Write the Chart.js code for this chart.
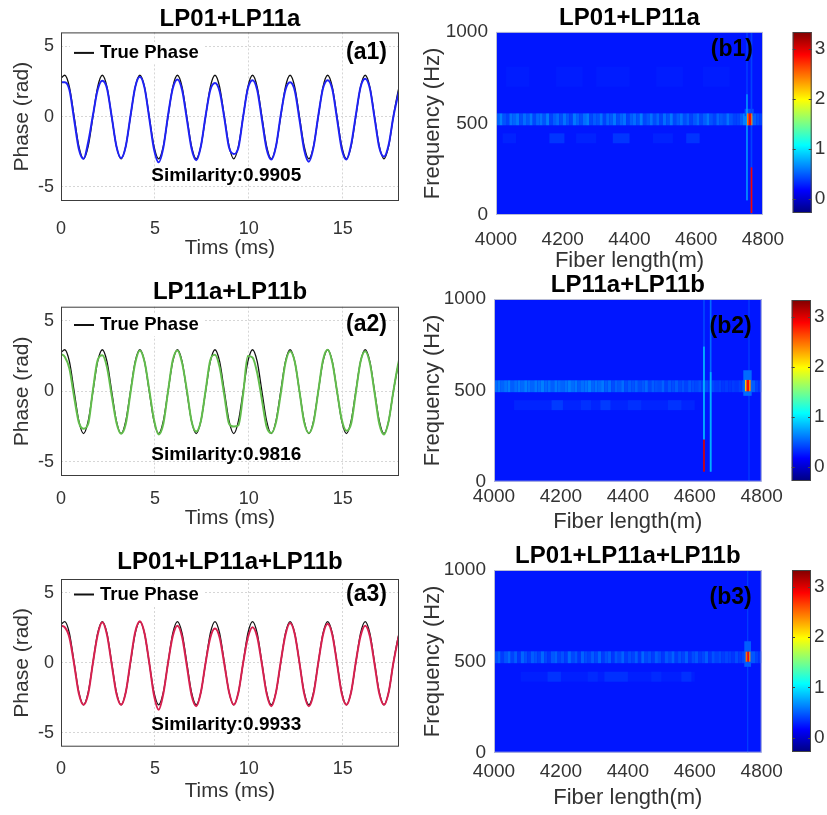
<!DOCTYPE html>
<html>
<head>
<meta charset="utf-8">
<title>Phase recovery and spectra</title>
<script src="https://cdn.jsdelivr.net/npm/chart.js@4.4.1/dist/chart.umd.min.js"></script>
<style>
  html, body { margin: 0; padding: 0; background: #fff; }
  #fig { position: relative; width: 827px; height: 815px; overflow: hidden; background: #fff; }
  #fig canvas { position: absolute; }
</style>
</head>
<body>
<div id="fig"></div>
<script>
// ---- phase traces (ms / rad) ----
const timeMs = [0, 0.2, 0.45, 0.7, 0.95, 1.2, 1.45, 1.7, 1.95,
  2.2, 2.45, 2.7, 2.95, 3.2, 3.45, 3.7, 3.95,
  4.2, 4.45, 4.7, 4.95, 5.2, 5.45, 5.7, 5.95,
  6.2, 6.45, 6.7, 6.95, 7.2, 7.45, 7.7, 7.95,
  8.2, 8.45, 8.7, 8.95, 9.2, 9.45, 9.7, 9.95,
  10.2, 10.45, 10.7, 10.95, 11.2, 11.45, 11.7, 11.95,
  12.2, 12.45, 12.7, 12.95, 13.2, 13.45, 13.7, 13.95,
  14.2, 14.45, 14.7, 14.95, 15.2, 15.45, 15.7, 15.95,
  16.2, 16.45, 16.7, 16.95, 17.2, 17.45, 17.7, 17.95, 18];

const truePhase = [2.75,
  2.95, 2.1, 0, -2.1, -3.0, -2.1, 0, 2.1,
  2.95, 2.1, 0, -2.1, -3.0, -2.1, 0, 2.1,
  2.95, 2.1, 0, -2.1, -3.0, -2.1, 0, 2.1,
  2.95, 2.1, 0, -2.1, -3.0, -2.1, 0, 2.1,
  2.95, 2.1, 0, -2.1, -3.0, -2.1, 0, 2.1,
  2.95, 2.1, 0, -2.1, -3.0, -2.1, 0, 2.1,
  2.95, 2.1, 0, -2.1, -3.0, -2.1, 0, 2.1,
  2.95, 2.1, 0, -2.1, -3.0, -2.1, 0, 2.1,
  2.95, 2.1, 0, -2.1, -3.0, -2.1, 0, 1.8, 2.05];

const phaseLP01LP11a = [2.45,
  2.45, 1.9, -0.2, -2.3, -3.0, -1.8, 0.1, 1.9,
  2.55, 2.0, 0.0, -2.1, -2.95, -2.1, 0.05, 2.1,
  2.85, 2.05, -0.1, -2.3, -3.25, -2.2, 0.1, 2.0,
  2.65, 1.9, -0.15, -2.25, -3.1, -2.1, 0.05, 1.9,
  2.4, 1.8, -0.1, -2.2, -2.65, -2.2, 0.0, 2.0,
  2.6, 1.9, -0.2, -2.3, -3.05, -2.1, 0.1, 1.9,
  2.45, 1.85, -0.2, -2.35, -3.2, -2.15, 0.05, 2.0,
  2.6, 1.95, -0.15, -2.3, -3.05, -2.0, 0.1, 2.1,
  2.7, 2.0, -0.1, -2.2, -2.85, -2.0, 0.0, 1.55, 1.85];

const phaseLP11aLP11b = [2.65,
  2.45, 1.6, -0.4, -2.2, -2.65, -2.3, 0.1, 2.2,
  2.55, 1.7, -0.3, -2.2, -3.0, -2.3, -0.1, 2.0,
  2.9, 2.1, 0.1, -2.0, -3.05, -2.3, 0.0, 2.2,
  2.9, 2.0, 0.1, -2.1, -2.85, -2.1, 0.05, 2.2,
  2.6, 1.7, -0.3, -2.3, -2.5, -2.4, -0.2, 2.5,
  2.4, 1.3, -0.6, -2.5, -2.95, -2.2, -0.2, 2.0,
  2.85, 2.1, 0.0, -2.2, -2.95, -2.2, 0.0, 2.2,
  2.95, 2.05, 0.0, -2.0, -2.8, -2.3, -0.1, 2.1,
  2.85, 2.0, -0.1, -2.3, -3.05, -2.1, 0.0, 1.9, 2.2];

const phaseAllModes = [2.65,
  2.55, 1.8, -0.1, -2.2, -3.0, -2.2, 0.0, 2.0,
  2.9, 2.0, -0.1, -2.2, -3.0, -2.1, 0.1, 2.2,
  2.98, 2.1, 0.0, -2.3, -3.35, -2.2, 0.0, 1.9,
  2.65, 1.85, -0.2, -2.3, -3.1, -2.1, 0.0, 1.8,
  2.45, 1.8, -0.1, -2.1, -3.0, -2.1, 0.0, 1.8,
  2.55, 1.85, -0.1, -2.2, -3.1, -2.1, 0.05, 2.0,
  2.85, 2.05, 0.0, -2.2, -3.1, -2.2, 0.0, 2.0,
  2.8, 2.0, -0.05, -2.2, -3.0, -2.1, 0.05, 1.9,
  2.65, 1.9, -0.1, -2.2, -3.0, -2.1, 0.0, 1.7, 2.0];

const similarity = ['0.9905', '0.9816', '0.9933'];

// ---- spectrum maps: fiber length (m) x frequency (Hz) ----
const fiberRange = [4000, 4800];
const fiberStep = 10;                 // width of one column, m
const band500Hz = [490, 555];         // rows of the 500 Hz line
const heatBase = [0.25, 0.25, 0.25];  // floor level of each map
const cbRange = [-0.28, 3.33];

const map1Band500 = [0.50,0.62,0.46,0.40,0.58,0.52,0.60,0.44,0.56,0.48,
  0.60,0.42,0.54,0.58,0.46,0.62,0.40,0.50,0.56,0.44,
  0.58,0.48,0.40,0.60,0.52,0.44,0.56,0.62,0.42,0.50,
  0.46,0.58,0.40,0.54,0.48,0.60,0.44,0.52,0.58,0.40,
  0.50,0.56,0.46,0.62,0.42,0.48,0.58,0.44,0.54,0.40,
  0.56,0.46,0.60,0.42,0.50,0.58,0.44,0.52,0.40,0.48,
  0.56,0.42,0.50,0.60,0.46,0.40,0.54,0.48,0.44,0.58,
  0.46,0.40,0.42,0.50,0.62,0.55,0.60,0.50,0.44,0.40];
const map2Band500 = [0.55,0.60,0.52,0.58,0.62,0.50,0.56,0.60,0.54,0.62,
  0.58,0.52,0.60,0.56,0.62,0.54,0.58,0.50,0.60,0.56,
  0.52,0.58,0.62,0.55,0.60,0.50,0.56,0.58,0.62,0.52,
  0.58,0.54,0.60,0.50,0.56,0.44,0.52,0.48,0.56,0.44,
  0.50,0.46,0.52,0.44,0.48,0.54,0.42,0.50,0.46,0.44,
  0.52,0.40,0.48,0.44,0.50,0.42,0.46,0.40,0.48,0.44,
  0.42,0.46,0.40,0.44,0.40,0.42,0.38,0.40,0.36,0.38,
  0.36,0.38,0.36,0.40,0.46,0.55,0.60,0.50,0.40,0.36];
const map3Band500 = [0.44,0.52,0.38,0.47,0.55,0.40,0.50,0.36,0.53,0.45,
  0.38,0.50,0.46,0.40,0.54,0.42,0.36,0.48,0.52,0.40,
  0.46,0.38,0.55,0.42,0.48,0.36,0.52,0.44,0.40,0.50,
  0.42,0.54,0.38,0.46,0.50,0.36,0.48,0.42,0.52,0.38,
  0.45,0.40,0.50,0.36,0.54,0.42,0.46,0.38,0.50,0.44,
  0.36,0.48,0.42,0.52,0.38,0.46,0.40,0.50,0.36,0.44,
  0.48,0.38,0.42,0.50,0.36,0.46,0.40,0.44,0.38,0.42,
  0.40,0.36,0.44,0.38,0.42,0.50,0.58,0.48,0.40,0.36];

// [fromM, toM, fromHz, toHz, level]
const map1Faint = [[4020,4060,392,446,0.29],[4160,4205,392,446,0.36],[4240,4300,392,446,0.29],
  [4350,4400,392,446,0.36],[4470,4530,392,446,0.29],[4570,4610,392,446,0.35],
  [4030,4100,700,810,0.27],[4180,4260,700,810,0.27],[4300,4400,700,810,0.27],
  [4480,4560,700,810,0.27],[4620,4700,700,810,0.27]];
const map2Faint = [[4060,4600,392,446,0.30],[4172,4206,392,446,0.38],[4260,4290,392,446,0.34],
  [4318,4348,392,446,0.38],[4400,4440,392,446,0.34],[4520,4560,392,446,0.35]];
const map3Faint = [[4080,4600,389,443,0.28],[4160,4200,389,443,0.35],[4280,4310,389,443,0.32],
  [4330,4400,389,443,0.34],[4470,4500,389,443,0.32],[4560,4590,389,443,0.34]];

const map1Spots = [[4745,4772,540,580,0.45],
  [4750,4754,80,660,0.8],[4750,4754,660,1000,0.4],
  [4763,4768,0,1000,0.4],[4763,4768,10,260,2.9],
  [4752,4757,490,555,2.45],[4757,4765,490,555,2.85],[4765,4768,490,555,2.3]];
const map2Spots = [[4625,4630,740,1000,0.42],[4625,4630,230,740,0.85],[4625,4630,55,230,3.0],
  [4645,4650,55,1000,0.55],[4645,4650,55,600,0.8],
  [4760,4764,0,1000,0.38],[4745,4770,470,610,0.55],
  [4750,4755,495,557,2.2],[4755,4762,495,557,2.85],[4762,4767,495,557,2.4]];
const map3Spots = [[4756,4760,0,1000,0.38],[4748,4768,470,610,0.5],
  [4752,4757,498,553,2.5],[4757,4763,498,553,2.85],[4763,4766,498,553,2.3]];

const INK = '#333333';
const FONT = '"Liberation Sans", Arial, sans-serif';
Chart.defaults.font.family = FONT;

function addCanvas(left, top, w, h) {
  const c = document.createElement('canvas');
  c.width = w; c.height = h;
  c.style.left = left + 'px'; c.style.top = top + 'px';
  c.style.width = w + 'px'; c.style.height = h + 'px';
  document.getElementById('fig').appendChild(c);
  return c;
}

function pairs(xs, ys) {
  return xs.map((x, i) => ({ x: x, y: ys[i] }));
}

const plain = v => String(v);
const titleFont = { size: 24, weight: 'bold', lineHeight: 1.1 };

// MATLAB-style jet colormap
function jet(v) {
  const t = Math.min(1, Math.max(0, (v - cbRange[0]) / (cbRange[1] - cbRange[0])));
  const c = k => Math.round(255 * Math.min(1, Math.max(0, 1.5 - Math.abs(4 * t - k))));
  return 'rgb(' + c(3) + ',' + c(2) + ',' + c(1) + ')';
}

// legend, panel tag, similarity note and the axes box
const phaseDecor = {
  id: 'phaseDecor',
  afterDatasetsDraw(chart, args, o) {
    const { ctx, chartArea: a, scales: { x, y } } = chart;
    ctx.save();
    const ly = a.top + o.dy;
    ctx.fillStyle = '#fff';
    ctx.fillRect(a.left + 9, ly - 11, 134, 22);
    ctx.strokeStyle = '#111';
    ctx.lineWidth = 2;
    ctx.beginPath(); ctx.moveTo(a.left + 13, ly); ctx.lineTo(a.left + 33, ly); ctx.stroke();
    ctx.fillStyle = '#000';
    ctx.textBaseline = 'middle';
    ctx.textAlign = 'left';
    ctx.font = 'bold 18.5px ' + FONT;
    ctx.fillText(chart.data.datasets[1].label, a.left + 39, ly);
    ctx.textAlign = 'right';
    ctx.font = 'bold 23px ' + FONT;
    ctx.fillText(o.tag, a.right - 12, ly);
    ctx.textAlign = 'center';
    ctx.font = 'bold 19px ' + FONT;
    ctx.fillText('Similarity:' + o.sim, x.getPixelForValue(8.8), y.getPixelForValue(o.simY));
    ctx.strokeStyle = '#3c3c3c';
    ctx.lineWidth = 1;
    ctx.strokeRect(a.left + 0.5, a.top + 0.5, a.width - 1, a.height - 1);
    ctx.restore();
  }
};

function phasePanel(p) {
  const cv = addCanvas(0, p.top, 410, p.height);
  return new Chart(cv, {
    type: 'line',
    data: {
      datasets: [
        { label: 'Recovered', data: pairs(timeMs, p.series), borderColor: p.color, borderWidth: 2, order: 0 },
        { label: 'True Phase', data: pairs(timeMs, truePhase), borderColor: '#111', borderWidth: 1.3, order: 1 }
      ]
    },
    options: {
      responsive: false, animation: false, events: [],
      elements: { point: { radius: 0 }, line: { cubicInterpolationMode: 'monotone', fill: false } },
      layout: { padding: { left: 7, right: 11, top: 0, bottom: 0 } },
      plugins: {
        legend: { display: false }, tooltip: { enabled: false },
        title: { display: true, text: p.title, fullSize: false, color: '#000', font: titleFont,
          padding: { top: p.titleTop, bottom: p.titleBottom } },
        phaseDecor: { tag: p.tag, sim: p.sim, simY: p.simY, dy: p.dy }
      },
      scales: {
        x: {
          type: 'linear', min: 0, max: 18,
          ticks: { stepSize: 5, includeBounds: false, padding: p.tickPad, color: INK, font: { size: 18 }, maxRotation: 0 },
          grid: { color: '#d6d6d6', drawTicks: false },
          border: { display: false, dash: [2, 2] },
          title: { display: true, text: 'Tims (ms)', color: INK, font: { size: 20.5 }, padding: { top: 0, bottom: 4 } },
          afterFit: s => { s.height = p.xAxisH; }
        },
        y: {
          type: 'linear', min: -6, max: 6,
          ticks: { stepSize: 5, includeBounds: false, padding: 7, color: INK, font: { size: 18 } },
          grid: { color: '#d6d6d6', drawTicks: false },
          border: { display: false, dash: [2, 2] },
          title: { display: true, text: 'Phase (rad)', color: INK, font: { size: 21 }, padding: { top: 3, bottom: 0 } },
          afterFit: s => { s.width = 54; }
        }
      }
    },
    plugins: [phaseDecor]
  });
}

// spectrum cells painted through the x/y scales
const heatLayer = {
  id: 'heatLayer',
  beforeDatasetsDraw(chart, args, o) {
    const { ctx, chartArea: a, scales: { x, y } } = chart;
    const cell = (x0, x1, f0, f1, v) => {
      const l = x.getPixelForValue(x0), r = x.getPixelForValue(x1);
      const t = y.getPixelForValue(f1), b = y.getPixelForValue(f0);
      ctx.fillStyle = jet(v);
      ctx.fillRect(l, t, r - l, b - t);
    };
    ctx.save();
    ctx.beginPath(); ctx.rect(a.left, a.top, a.width, a.height); ctx.clip();
    cell(fiberRange[0], fiberRange[1], 0, 1000, o.base);
    o.faint.forEach(c => cell.apply(null, c));
    o.band.forEach((v, i) => cell(fiberRange[0] + i * fiberStep, fiberRange[0] + (i + 1) * fiberStep, band500Hz[0], band500Hz[1], v));
    o.spots.forEach(c => cell.apply(null, c));
    ctx.restore();
  },
  afterDatasetsDraw(chart, args, o) {
    const { ctx, chartArea: a } = chart;
    ctx.save();
    ctx.strokeStyle = '#b8bcd6';
    ctx.lineWidth = 1;
    ctx.strokeRect(a.left + 0.5, a.top + 0.5, a.width - 1, a.height - 1);
    ctx.fillStyle = '#000';
    ctx.font = 'bold 23px ' + FONT;
    ctx.textAlign = 'right';
    ctx.textBaseline = 'middle';
    ctx.fillText(o.tag, a.right - 10, a.top + o.tagDy);
    ctx.restore();
  }
};

// the canvas runs past the map on the right so the last tick label never squeezes it
function heatPanel(p) {
  const cv = addCanvas(410, p.top, 400, p.height);
  return new Chart(cv, {
    type: 'scatter',
    data: { datasets: [{ data: [] }] },
    options: {
      responsive: false, animation: false, events: [],
      layout: { padding: { left: 7, right: 810 - p.right, top: 0, bottom: 0 } },
      plugins: {
        legend: { display: false }, tooltip: { enabled: false },
        title: { display: true, text: p.title, fullSize: false, color: '#000', font: titleFont,
          padding: { top: p.titleTop, bottom: p.titleBottom } },
        heatLayer: { base: p.base, band: p.band, faint: p.faint, spots: p.spots, tag: p.tag, tagDy: p.tagDy }
      },
      scales: {
        x: {
          type: 'linear', min: fiberRange[0], max: fiberRange[1],
          ticks: { stepSize: 200, padding: p.tickPad, color: INK, font: { size: 19 }, maxRotation: 0, autoSkip: false, callback: plain },
          grid: { display: false, drawTicks: false }, border: { display: false },
          title: { display: true, text: 'Fiber length(m)', color: INK, font: { size: 22 }, padding: { top: 0, bottom: 3 } },
          afterFit: s => { s.height = p.xAxisH; }
        },
        y: {
          type: 'linear', min: 0, max: 1000,
          ticks: { stepSize: 500, padding: 8, color: INK, font: { size: 19 }, callback: plain },
          grid: { display: false, drawTicks: false }, border: { display: false },
          title: { display: true, text: 'Frequency (Hz)', color: INK, font: { size: 22 }, padding: { top: 3, bottom: 0 } },
          afterFit: s => { s.width = p.yAxisW; }
        }
      }
    },
    plugins: [heatLayer]
  });
}

// colour scale bar beside each map
const colorRamp = {
  id: 'colorRamp',
  beforeDatasetsDraw(chart) {
    const { ctx, chartArea: a, scales: { y } } = chart;
    const y0 = y.getPixelForValue(cbRange[0]), y1 = y.getPixelForValue(cbRange[1]);
    const g = ctx.createLinearGradient(0, y0, 0, y1);
    for (let k = 0; k <= 32; k++) {
      g.addColorStop(k / 32, jet(cbRange[0] + (cbRange[1] - cbRange[0]) * k / 32));
    }
    ctx.save();
    ctx.fillStyle = g;
    ctx.fillRect(a.left, a.top, a.width, a.height);
    ctx.strokeStyle = '#444';
    ctx.lineWidth = 1;
    ctx.strokeRect(a.left + 0.5, a.top + 0.5, a.width - 1, a.height - 1);
    y.ticks.forEach(t => {
      const py = Math.round(y.getPixelForValue(t.value)) + 0.5;
      ctx.beginPath();
      ctx.moveTo(a.left, py); ctx.lineTo(a.left + 3, py);
      ctx.moveTo(a.right, py); ctx.lineTo(a.right - 3, py);
      ctx.stroke();
    });
    ctx.restore();
  }
};

function colorBar(p) {
  const cv = addCanvas(780, p.top - 20, 47, p.height + 40);
  return new Chart(cv, {
    type: 'scatter',
    data: { datasets: [{ data: [] }] },
    options: {
      responsive: false, animation: false, events: [],
      layout: { padding: { left: p.left - 780, right: 0, top: 20, bottom: 20 } },
      plugins: { legend: { display: false }, tooltip: { enabled: false } },
      scales: {
        x: { display: false, min: 0, max: 1 },
        y: {
          position: 'right', min: cbRange[0], max: cbRange[1],
          ticks: { stepSize: 1, includeBounds: false, padding: 3, color: INK, font: { size: 19 }, callback: plain },
          grid: { display: false, drawTicks: false }, border: { display: false },
          afterFit: s => { s.width = 827 - p.right; }
        }
      }
    },
    plugins: [colorRamp]
  });
}

phasePanel({ top: 0, height: 265, title: 'LP01+LP11a', series: phaseLP01LP11a, color: '#1f22f5',
  tag: '(a1)', sim: similarity[0], simY: -4.2, dy: 20.5,
  titleTop: 6, titleBottom: 0, xAxisH: 64, tickPad: 17 });
phasePanel({ top: 270, height: 265, title: 'LP11a+LP11b', series: phaseLP11aLP11b, color: '#62bd4c',
  tag: '(a2)', sim: similarity[1], simY: -4.5, dy: 18.3,
  titleTop: 8.8, titleBottom: 1.5, xAxisH: 59, tickPad: 12 });
phasePanel({ top: 540, height: 268, title: 'LP01+LP11a+LP11b', series: phaseAllModes, color: '#d8204f',
  tag: '(a3)', sim: similarity[2], simY: -4.4, dy: 15.5,
  titleTop: 8.8, titleBottom: 3.8, xAxisH: 61.3, tickPad: 11.5 });

heatPanel({ top: 0, height: 277, title: 'LP01+LP11a', base: heatBase[0], band: map1Band500, faint: map1Faint, spots: map1Spots,
  tag: '(b1)', tagDy: 18, titleTop: 5.5, titleBottom: 0, xAxisH: 62, tickPad: 13, yAxisW: 79, right: 763 });
heatPanel({ top: 270, height: 268, title: 'LP11a+LP11b', base: heatBase[1], band: map2Band500, faint: map2Faint, spots: map2Spots,
  tag: '(b2)', tagDy: 28, titleTop: 2.6, titleBottom: 0, xAxisH: 56.3, tickPad: 4, yAxisW: 77, right: 761.7 });
heatPanel({ top: 540, height: 274, title: 'LP01+LP11a+LP11b', base: heatBase[2], band: map3Band500, faint: map3Faint, spots: map3Spots,
  tag: '(b3)', tagDy: 28, titleTop: 2.8, titleBottom: 0.8, xAxisH: 61.3, tickPad: 7.5, yAxisW: 77, right: 761.7 });

colorBar({ top: 32, height: 181, left: 792.7, right: 811.7 });
colorBar({ top: 300, height: 181, left: 791.7, right: 811 });
colorBar({ top: 570, height: 182, left: 792, right: 811 });
</script>
</body>
</html>
